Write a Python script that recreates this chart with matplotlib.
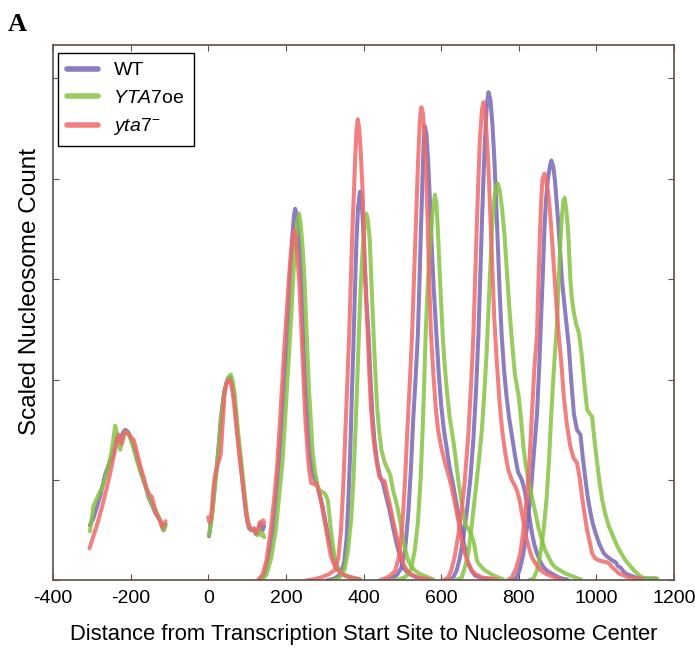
import matplotlib
matplotlib.use("Agg")
import matplotlib.pyplot as plt

plt.rcParams['font.family'] = ['Liberation Sans', 'DejaVu Sans']
plt.rcParams['mathtext.fontset'] = 'custom'
plt.rcParams['mathtext.rm'] = 'Liberation Sans'
plt.rcParams['mathtext.it'] = 'Liberation Sans:italic'
plt.rcParams['axes.unicode_minus'] = False

# nucleosome profiles, one segment per nucleosome position (-1, +1 ... +6)
# each segment is a list of (distance from TSS, scaled count)
wt_segments = [
    [(-305, 0.55), (-296, 0.62), (-287, 0.73), (-276, 0.88), (-266, 1.05), (-257, 1.15), (-248, 1.23),
     (-240, 1.35), (-235, 1.43), (-227, 1.40), (-220, 1.47), (-214, 1.50), (-207, 1.48), (-201, 1.43),
     (-192, 1.33), (-184, 1.22), (-176, 1.11), (-167, 1.00), (-160, 0.92), (-154, 0.83), (-145, 0.75),
     (-136, 0.67), (-129, 0.63), (-123, 0.59), (-115, 0.50), (-110, 0.56)],
    [(2, 0.44), (6, 0.56), (10, 0.67), (16, 0.92), (23, 1.18), (28, 1.40), (32, 1.60), (37, 1.76),
     (42, 1.90), (49, 1.99), (56, 2.02), (61, 1.97), (66, 1.86), (70, 1.68), (75, 1.47), (82, 1.22),
     (88, 1.00), (93, 0.82), (97, 0.67), (101, 0.58), (105, 0.52), (111, 0.50), (118, 0.51), (123, 0.46),
     (127, 0.47), (131, 0.54), (135, 0.57), (140, 0.50), (144, 0.54)],
    [(133, 0.0), (145, 0.06), (155, 0.22), (166, 0.50), (174, 0.80), (182, 1.17), (189, 1.58), (196, 2.00),
     (202, 2.38), (207, 2.72), (212, 3.12), (217, 3.45), (221, 3.64), (224, 3.70), (228, 3.64), (232, 3.49),
     (237, 3.18), (241, 2.82), (245, 2.40), (249, 2.00), (254, 1.68), (258, 1.40), (263, 1.22), (269, 1.07),
     (275, 1.00), (282, 0.93), (288, 0.84), (295, 0.73), (301, 0.60), (308, 0.47), (315, 0.35), (321, 0.24),
     (330, 0.14), (342, 0.07), (358, 0.04), (377, 0.02), (388, 0.01)],
    [(305, 0.0), (325, 0.02), (340, 0.06), (350, 0.18), (356, 0.40), (361, 0.80), (366, 1.30), (370, 1.85),
     (374, 2.35), (378, 2.90), (382, 3.40), (386, 3.72), (391, 3.87), (395, 3.78), (399, 3.52), (403, 3.15),
     (408, 2.75), (413, 2.44), (418, 2.00), (423, 1.65), (428, 1.40), (435, 1.18), (443, 1.03), (450, 0.97),
     (458, 0.84), (467, 0.70), (476, 0.53), (485, 0.37), (494, 0.24), (502, 0.13), (515, 0.07), (532, 0.04),
     (548, 0.02), (565, 0.01)],
    [(455, 0.0), (470, 0.02), (485, 0.05), (497, 0.12), (507, 0.30), (515, 0.65), (522, 1.10), (528, 1.60),
     (534, 2.00), (540, 2.44), (544, 2.95), (548, 3.50), (552, 4.00), (555, 4.35), (558, 4.52), (562, 4.45),
     (566, 4.20), (571, 3.80), (576, 3.30), (581, 2.90), (588, 2.44), (594, 2.05), (600, 1.75), (607, 1.50),
     (615, 1.30), (622, 1.12), (630, 0.97), (637, 0.82), (644, 0.67), (651, 0.53), (657, 0.40), (664, 0.27),
     (670, 0.17), (678, 0.10), (687, 0.05), (700, 0.03), (713, 0.02), (730, 0.01)],
    [(612, 0.0), (622, 0.01), (631, 0.03), (640, 0.10), (648, 0.22), (657, 0.42), (666, 0.68), (675, 1.00),
     (683, 1.40), (690, 1.90), (696, 2.44), (701, 3.05), (705, 3.55), (709, 4.00), (713, 4.40), (718, 4.75),
     (722, 4.86), (727, 4.78), (732, 4.55), (737, 4.20), (742, 3.75), (747, 3.25), (751, 2.85), (756, 2.44),
     (762, 2.10), (768, 1.85), (775, 1.62), (782, 1.45), (790, 1.25), (798, 1.08), (808, 1.00), (815, 0.90),
     (821, 0.77), (828, 0.62), (834, 0.47), (840, 0.36), (847, 0.27), (855, 0.19), (864, 0.13), (875, 0.09),
     (885, 0.07), (898, 0.04), (911, 0.02), (925, 0.01)],
    [(782, 0.0), (795, 0.03), (804, 0.13), (812, 0.27), (821, 0.52), (830, 0.83), (838, 1.22), (847, 1.66),
     (853, 2.15), (858, 2.66), (862, 3.05), (866, 3.49), (870, 3.78), (875, 3.99), (880, 4.12), (884, 4.18),
     (889, 4.12), (893, 3.99), (898, 3.75), (903, 3.49), (907, 3.25), (911, 3.00), (920, 2.66), (929, 2.33),
     (935, 2.00), (942, 1.66), (950, 1.50), (959, 1.45), (965, 1.22), (972, 1.00), (978, 0.82), (985, 0.67),
     (991, 0.56), (998, 0.47), (1008, 0.36), (1019, 0.27), (1030, 0.23), (1041, 0.20), (1050, 0.18),
     (1056, 0.14), (1062, 0.13), (1068, 0.10), (1075, 0.07), (1088, 0.05), (1101, 0.03), (1125, 0.02),
     (1153, 0.02)],
]

yta7oe_segments = [
    [(-305, 0.49), (-300, 0.62), (-296, 0.74), (-289, 0.80), (-282, 0.86), (-274, 0.92), (-263, 1.05),
     (-253, 1.21), (-246, 1.36), (-240, 1.54), (-234, 1.45), (-227, 1.30), (-221, 1.40), (-214, 1.48),
     (-208, 1.47), (-201, 1.42), (-193, 1.32), (-184, 1.20), (-173, 1.06), (-162, 0.94), (-155, 0.87),
     (-149, 0.80), (-141, 0.73), (-132, 0.67), (-124, 0.60), (-119, 0.53), (-115, 0.50), (-110, 0.55)],
    [(2, 0.45), (6, 0.55), (10, 0.65), (16, 0.88), (23, 1.15), (28, 1.38), (33, 1.60), (38, 1.78),
     (44, 1.92), (51, 2.02), (58, 2.05), (63, 1.98), (68, 1.85), (72, 1.68), (77, 1.47), (84, 1.22),
     (90, 1.00), (95, 0.82), (99, 0.67), (103, 0.58), (108, 0.52), (114, 0.50), (120, 0.51), (126, 0.45),
     (131, 0.50), (136, 0.45), (140, 0.47), (144, 0.43)],
    [(138, 0.0), (150, 0.06), (162, 0.22), (174, 0.50), (182, 0.82), (191, 1.17), (198, 1.60), (204, 2.00),
     (210, 2.38), (215, 2.72), (220, 3.10), (226, 3.42), (230, 3.58), (234, 3.65), (238, 3.55), (243, 3.32),
     (248, 2.98), (252, 2.59), (256, 2.22), (260, 1.86), (265, 1.55), (269, 1.27), (275, 1.08), (282, 0.93),
     (289, 0.89), (295, 0.88), (301, 0.86), (308, 0.80), (312, 0.65), (316, 0.50), (321, 0.36), (325, 0.24),
     (333, 0.14), (342, 0.07), (358, 0.04), (377, 0.02), (392, 0.01)],
    [(318, 0.0), (335, 0.02), (345, 0.06), (352, 0.12), (360, 0.30), (368, 0.60), (374, 1.00), (380, 1.57),
     (385, 2.10), (389, 2.56), (393, 2.95), (397, 3.25), (402, 3.50), (407, 3.65), (411, 3.60), (416, 3.39),
     (420, 3.00), (426, 2.44), (430, 2.10), (435, 1.73), (440, 1.50), (446, 1.30), (454, 1.18), (463, 1.10),
     (469, 1.05), (476, 0.90), (483, 0.80), (489, 0.70), (496, 0.55), (502, 0.40), (509, 0.28), (515, 0.20),
     (523, 0.14), (532, 0.10), (548, 0.06), (567, 0.03), (580, 0.01)],
    [(470, 0.0), (490, 0.01), (505, 0.03), (515, 0.06), (523, 0.12), (532, 0.30), (540, 0.57), (547, 1.00),
     (553, 1.57), (557, 2.05), (560, 2.44), (565, 2.90), (570, 3.25), (577, 3.62), (584, 3.84), (588, 3.75),
     (592, 3.45), (597, 3.00), (604, 2.44), (609, 2.15), (615, 1.88), (622, 1.62), (631, 1.40), (638, 1.20),
     (644, 1.00), (651, 0.82), (657, 0.67), (663, 0.55), (670, 0.52), (676, 0.47), (683, 0.40), (688, 0.30),
     (692, 0.20), (698, 0.16), (705, 0.13), (713, 0.10), (722, 0.08), (735, 0.05), (748, 0.03), (760, 0.01)],
    [(630, 0.0), (642, 0.01), (653, 0.03), (661, 0.13), (670, 0.27), (678, 0.52), (687, 0.83), (696, 1.15),
     (705, 1.50), (711, 1.85), (717, 2.25), (722, 2.70), (727, 3.15), (732, 3.55), (737, 3.80), (742, 3.93),
     (746, 3.95), (751, 3.88), (757, 3.70), (763, 3.45), (769, 3.10), (775, 2.75), (782, 2.40), (790, 2.05),
     (800, 1.83), (806, 1.60), (812, 1.33), (818, 1.15), (825, 1.00), (834, 0.83), (843, 0.67), (851, 0.52),
     (860, 0.40), (868, 0.30), (877, 0.23), (885, 0.17), (894, 0.13), (907, 0.10), (920, 0.07), (933, 0.05),
     (946, 0.03), (960, 0.01)],
    [(825, 0.0), (838, 0.02), (847, 0.10), (855, 0.25), (864, 0.50), (872, 0.83), (878, 1.20), (883, 1.60),
     (888, 1.95), (894, 2.30), (899, 2.60), (903, 3.00), (907, 3.35), (911, 3.62), (915, 3.78), (918, 3.81),
     (922, 3.70), (927, 3.49), (933, 2.99), (937, 2.80), (942, 2.66), (948, 2.55), (955, 2.46), (962, 2.25),
     (968, 2.00), (972, 1.85), (976, 1.70), (983, 1.66), (989, 1.63), (995, 1.40), (1002, 1.17), (1008, 0.98),
     (1015, 0.80), (1023, 0.66), (1032, 0.54), (1043, 0.44), (1054, 0.34), (1064, 0.27), (1075, 0.20),
     (1086, 0.15), (1097, 0.10), (1108, 0.06), (1118, 0.03), (1135, 0.02), (1157, 0.02)],
]

yta7_segments = [
    [(-306, 0.32), (-297, 0.43), (-287, 0.55), (-274, 0.73), (-261, 0.93), (-252, 1.08), (-244, 1.23),
     (-237, 1.35), (-231, 1.45), (-227, 1.40), (-223, 1.36), (-218, 1.44), (-212, 1.48), (-205, 1.46),
     (-198, 1.42), (-192, 1.40), (-184, 1.28), (-175, 1.14), (-166, 1.02), (-158, 0.90), (-152, 0.86),
     (-145, 0.83), (-139, 0.74), (-132, 0.65), (-125, 0.60), (-119, 0.53), (-114, 0.56), (-110, 0.59)],
    [(0, 0.63), (3, 0.58), (6, 0.60), (10, 0.75), (14, 0.95), (19, 1.08), (25, 1.16), (32, 1.25), (37, 1.55),
     (42, 1.86), (48, 1.98), (54, 2.00), (59, 1.95), (64, 1.84), (69, 1.66), (74, 1.47), (80, 1.25),
     (87, 1.02), (92, 0.85), (97, 0.70), (102, 0.58), (107, 0.53), (113, 0.50), (118, 0.52), (123, 0.47),
     (128, 0.50), (133, 0.58), (137, 0.55), (141, 0.60), (144, 0.57)],
    [(127, 0.0), (140, 0.06), (150, 0.20), (161, 0.50), (170, 0.82), (178, 1.17), (185, 1.60), (191, 2.00),
     (197, 2.38), (203, 2.72), (208, 3.02), (213, 3.26), (218, 3.44), (221, 3.49), (225, 3.42), (230, 3.22),
     (235, 2.92), (239, 2.59), (243, 2.22), (247, 1.86), (251, 1.55), (256, 1.27), (260, 1.10), (265, 0.97),
     (272, 0.96), (278, 0.97), (284, 0.90), (290, 0.80), (297, 0.65), (304, 0.50), (310, 0.36), (316, 0.24),
     (325, 0.15), (334, 0.10), (347, 0.06), (360, 0.04), (381, 0.02), (390, 0.01)],
    [(252, 0.0), (270, 0.01), (290, 0.03), (310, 0.06), (325, 0.10), (335, 0.22), (342, 0.50), (348, 0.95),
     (353, 1.45), (358, 1.95), (363, 2.44), (367, 2.95), (371, 3.45), (375, 3.84), (379, 4.25), (382, 4.48),
     (385, 4.59), (389, 4.50), (393, 4.25), (398, 3.84), (402, 3.30), (406, 2.85), (411, 2.44), (415, 2.05),
     (419, 1.73), (424, 1.48), (429, 1.30), (435, 1.15), (441, 1.03), (448, 1.00), (454, 0.99), (460, 0.88),
     (467, 0.77), (476, 0.60), (485, 0.44), (494, 0.30), (502, 0.17), (512, 0.10), (523, 0.06), (540, 0.03),
     (558, 0.02), (572, 0.01)],
    [(440, 0.0), (455, 0.02), (470, 0.05), (482, 0.10), (492, 0.25), (500, 0.55), (507, 1.00), (513, 1.50),
     (519, 1.95), (525, 2.44), (530, 3.00), (535, 3.55), (539, 4.00), (543, 4.40), (546, 4.62), (549, 4.71),
     (553, 4.65), (557, 4.45), (561, 4.10), (565, 3.60), (569, 3.00), (574, 2.44), (580, 2.05), (586, 1.72),
     (592, 1.50), (600, 1.33), (610, 1.17), (619, 1.05), (627, 0.93), (635, 0.78), (644, 0.60), (652, 0.42),
     (661, 0.27), (670, 0.17), (679, 0.10), (690, 0.06), (705, 0.03), (730, 0.02), (745, 0.01)],
    [(600, 0.0), (610, 0.01), (618, 0.03), (626, 0.10), (635, 0.24), (644, 0.45), (653, 0.70), (661, 1.00),
     (670, 1.45), (677, 1.95), (683, 2.44), (688, 3.05), (692, 3.55), (696, 4.00), (700, 4.40), (705, 4.68),
     (709, 4.76), (713, 4.68), (717, 4.45), (722, 4.10), (727, 3.60), (732, 3.10), (737, 2.60), (743, 2.20),
     (750, 1.80), (757, 1.50), (765, 1.27), (773, 1.10), (782, 1.00), (789, 0.95), (795, 0.90), (802, 0.80),
     (808, 0.67), (815, 0.53), (821, 0.40), (828, 0.30), (834, 0.23), (843, 0.17), (851, 0.13), (860, 0.09),
     (868, 0.07), (880, 0.05), (894, 0.03), (910, 0.01)],
    [(770, 0.0), (782, 0.03), (793, 0.12), (804, 0.27), (812, 0.50), (821, 0.83), (828, 1.22), (834, 1.66),
     (840, 2.10), (847, 2.44), (851, 3.00), (855, 3.49), (858, 3.80), (861, 3.99), (866, 4.05), (871, 3.98),
     (877, 3.82), (883, 3.55), (890, 3.15), (896, 2.80), (903, 2.44), (910, 2.15), (916, 1.83), (924, 1.55),
     (933, 1.33), (941, 1.22), (950, 1.17), (957, 1.02), (963, 0.83), (970, 0.65), (976, 0.50), (983, 0.38),
     (989, 0.27), (997, 0.22), (1006, 0.20), (1017, 0.19), (1028, 0.18), (1035, 0.16), (1041, 0.13),
     (1050, 0.10), (1058, 0.07), (1070, 0.05), (1084, 0.03), (1100, 0.02), (1118, 0.02)],
]

series = [
    ('WT', wt_segments, '#7766b4'),
    (r'$\it{YTA7}$oe', yta7oe_segments, '#86c443'),
    (r'$\it{yta7}^{-}$', yta7_segments, '#f06a6a'),
]

xticks = [-400, -200, 0, 200, 400, 600, 800, 1000, 1200]
yticks = [0, 1, 2, 3, 4, 5]

fig = plt.figure(figsize=(6.95, 6.48), dpi=100)
ax = fig.add_axes([0.0763, 0.1042, 0.8935, 0.8264])

for label, segments, color in series:
    for i, seg in enumerate(segments):
        xs = [p[0] for p in seg]
        ys = [p[1] for p in seg]
        ax.plot(xs, ys, color=color, lw=2.9, alpha=0.85, solid_capstyle='round',
                label=label if i == 0 else None)

ax.set_xlim(-400, 1200)
ax.set_ylim(0, 5.33)
ax.set_xticks(xticks)
ax.set_yticks(yticks)
ax.set_yticklabels([])
ax.tick_params(direction='in', length=4, width=0.8, color='#5b5248',
               top=True, right=True, labelsize=14, pad=7)
for sp in ax.spines.values():
    sp.set_color('#5b5248')
    sp.set_linewidth(1.2)

ax.set_xlabel('Distance from Transcription Start Site to Nucleosome Center', fontsize=15.8, labelpad=12)
ax.set_ylabel('Scaled Nucleosome Count', fontsize=17.5)
ax.yaxis.set_label_coords(-0.02, 0.54)

leg = ax.legend(loc='upper left', bbox_to_anchor=(0.008, 0.985), borderaxespad=0,
                fontsize=14, handlelength=1.6, handletextpad=0.8, labelspacing=0.5,
                fancybox=False, framealpha=1, edgecolor='black', borderpad=0.45)
leg.get_frame().set_linewidth(1.0)
for h in leg.get_lines():
    h.set_linewidth(4)

fig.text(0.011, 0.952, 'A', fontsize=19, fontweight='bold', family='Liberation Serif')

fig.savefig('out.png', dpi=100)
